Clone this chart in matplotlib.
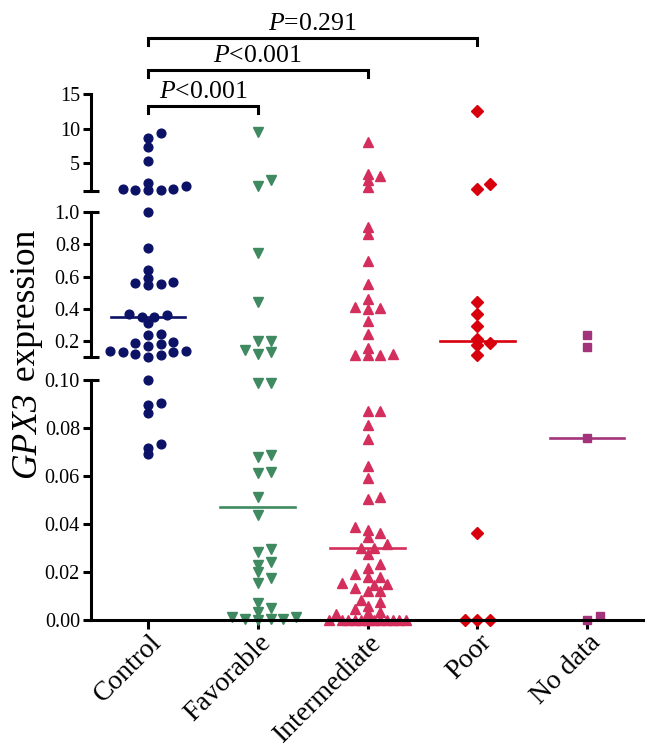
import numpy as np
import matplotlib
matplotlib.use("Agg")
import matplotlib.pyplot as plt
from matplotlib.transforms import blended_transform_factory, ScaledTranslation

plt.rcParams['font.family'] = ['Liberation Serif', 'DejaVu Serif']
plt.rcParams['mathtext.fontset'] = 'custom'
plt.rcParams['mathtext.it'] = 'Liberation Serif:italic'
plt.rcParams['mathtext.rm'] = 'Liberation Serif'

# values
groups = ["Control", "Favorable", "Intermediate", "Poor", "No data"]
control = [9.3, 8.7, 7.3, 5.4, 2.17, 1.69, 1.31, 1.31, 1.21, 1.21, 1.21,
           1.0, 0.78, 0.64, 0.594, 0.567, 0.563, 0.553, 0.548,
           0.367, 0.359, 0.35, 0.348, 0.314, 0.242, 0.234,
           0.193, 0.186, 0.182, 0.17, 0.14, 0.14, 0.132, 0.128, 0.118, 0.114, 0.103,
           0.100, 0.0905, 0.0896, 0.0864, 0.0733, 0.0718, 0.069]
favorable = [9.5, 2.54, 1.79,
             0.745, 0.445, 0.2, 0.2, 0.145, 0.132, 0.12,
             0.0989, 0.0986, 0.0686, 0.0678, 0.0615, 0.0611, 0.0514, 0.0437,
             0.0297, 0.0283, 0.024, 0.0228, 0.0199, 0.0175, 0.0156, 0.0069,
             0.0049, 0.0035, 0.0014, 0.0014, 0.0003, 0.0003, 0.0003, 0.0]
intermediate = [8.1, 3.5, 3.1, 2.54, 1.6,
                0.907, 0.865, 0.698, 0.553, 0.461, 0.41, 0.404, 0.397, 0.327,
                0.244, 0.159, 0.12, 0.114, 0.11, 0.11,
                0.0872, 0.0869, 0.0811, 0.0753, 0.0642, 0.0592, 0.0513, 0.0506,
                0.0388, 0.0375, 0.0361, 0.0347, 0.0317, 0.0301, 0.0299, 0.0274,
                0.0233, 0.0218, 0.0192, 0.0178, 0.0178, 0.0153, 0.0151, 0.0146,
                0.0132, 0.0122, 0.0122, 0.0083, 0.0076, 0.0058, 0.0047, 0.0032,
                0.0028, 0.0025, 0, 0, 0, 0, 0, 0, 0, 0, 0, 0, 0, 0]
poor = [12.6, 2.03, 1.31, 0.445, 0.366, 0.29, 0.215, 0.19, 0.174, 0.114,
        0.0364, 0, 0, 0]
no_data = [0.236, 0.165, 0.076, 0.0015, 0.0]
medians = [0.35, 0.0472, 0.0299, 0.2025, 0.076]

comparisons = [(0, 1, "<0.001"), (0, 2, "<0.001"), (0, 3, "=0.291")]

colors = ["#0c1266", "#3f8a60", "#d42e5c", "#d8000c", "#a3347c"]
markers = ["o", "v", "^", "D", "s"]
msizes = [6.3, 7.2, 7.2, 6.0, 6.0]

W, H = 650, 751
fig = plt.figure(figsize=(W / 100, H / 100), dpi=100)


def box(top, bottom):
    return [91 / W, 1 - bottom / H, 552 / W, (bottom - top) / H]


ax_top = fig.add_axes(box(94, 191))
ax_mid = fig.add_axes(box(212.3, 357))
ax_bot = fig.add_axes(box(380, 620))

segs = [
    (ax_top, (1.0, 15.0), [5, 10, 15], ["5", "10", "15"], [1.0], [""]),
    (ax_mid, (0.1, 1.0), [0.2, 0.4, 0.6, 0.8], ["0.2", "0.4", "0.6", "0.8"],
     [0.1, 1.0], ["", "1.0"]),
    (ax_bot, (0.0, 0.1), [0, 0.02, 0.04, 0.06, 0.08],
     ["0.00", "0.02", "0.04", "0.06", "0.08"], [0.1], ["0.10"]),
]
for ax, lim, maj, majl, mnr, mnrl in segs:
    ax.set_xlim(-0.52, 4.51)
    ax.set_ylim(*lim)
    ax.patch.set_visible(False)
    for s in ["top", "right"]:
        ax.spines[s].set_visible(False)
    ax.spines["left"].set_linewidth(2.2)
    ax.spines["bottom"].set_linewidth(2.2)
    if ax is not ax_bot:
        ax.spines["bottom"].set_visible(False)
        ax.set_xticks([])
    ax.set_yticks(maj)
    ax.set_yticklabels(majl)
    ax.set_yticks(mnr, minor=True)
    ax.set_yticklabels(mnrl, minor=True)
    ax.tick_params(axis="y", which="major", direction="out", length=6,
                   width=2.2, labelsize=14.5, pad=2)
    ax.tick_params(axis="y", which="minor", direction="inout", length=12,
                   width=2.2, labelsize=14.5, pad=2)

ax_bot.set_xticks(range(len(groups)))
ax_bot.set_xticklabels(groups, rotation=45, ha="right", va="top",
                       rotation_mode="anchor", fontsize=20)
ax_bot.tick_params(axis="x", direction="out", length=6.5, width=2.2, pad=0.5)
for lab in ax_bot.get_xticklabels():
    lab.set_transform(lab.get_transform() +
                      ScaledTranslation(0.01, 0, fig.dpi_scale_trans))


def seg_axis(v):
    if v > 1.0:
        return ax_top
    if v > 0.1:
        return ax_mid
    return ax_bot


def swarm(xc, values, step=6.35, rx=11.0, ry=6.5, kmax=6):
    # grid beeswarm in pixel space, elliptical no-overlap zone
    placed = []
    res = []
    cands = [0] + [s * k for k in range(1, kmax + 1) for s in (1, -1)]
    for i in np.argsort(values, kind="stable"):
        v = values[i]
        ax = seg_axis(v)
        x0, y = ax.transData.transform((xc, v))
        best, best_d = x0, -1
        for k in cands:
            x = x0 + k * step
            d = min([np.hypot((x - px) / rx, (y - py) / ry)
                     for px, py in placed], default=np.inf)
            if d >= 1:
                best = x
                break
            if d > best_d:
                best_d, best = d, x
        placed.append((best, y))
        res.append((ax, ax.transData.inverted().transform((best, y))[0], v))
    return res


all_data = [control, favorable, intermediate, poor, no_data]
for gi, vals in enumerate(all_data):
    pts = swarm(gi, vals)
    for ax in (ax_top, ax_mid, ax_bot):
        xs = [p[1] for p in pts if p[0] is ax]
        ys = [p[2] for p in pts if p[0] is ax]
        if xs:
            ax.plot(xs, ys, linestyle="none", marker=markers[gi],
                    ms=msizes[gi], color=colors[gi], mec=colors[gi],
                    clip_on=False, zorder=2)
    m = medians[gi]
    seg_axis(m).plot([gi - 0.34, gi + 0.34], [m, m], color=colors[gi],
                     lw=1.9, clip_on=False, zorder=3)

# significance brackets
tr = blended_transform_factory(ax_top.transData, fig.transFigure)
bracket_rows = [106, 70, 38]
for (a, b, txt), row in zip(comparisons, bracket_rows):
    y = 1 - row / H
    drop = 7 / H
    ax_top.plot([a, a, b, b], [y - drop, y, y, y - drop], color="black",
                lw=2.2, transform=tr, clip_on=False, solid_joinstyle="miter")
    ax_top.text((a + b) / 2, y + 8 / H, r"$\mathit{P}$" + txt, transform=tr,
                ha="center", va="baseline", fontsize=18.5)

# y label: italic gene name followed by upright word
lab_kw = dict(rotation=90, rotation_mode="anchor", ha="left", va="baseline",
              fontsize=25.5)
gene = fig.text(35 / W, 1 - 478 / H, "GPX3", fontstyle="italic", **lab_kw)
fig.canvas.draw()
ext = gene.get_window_extent()
fig.text(35 / W, (ext.y1 + 1) / H, " expression", **lab_kw)

fig.savefig("out.png", dpi=100)
